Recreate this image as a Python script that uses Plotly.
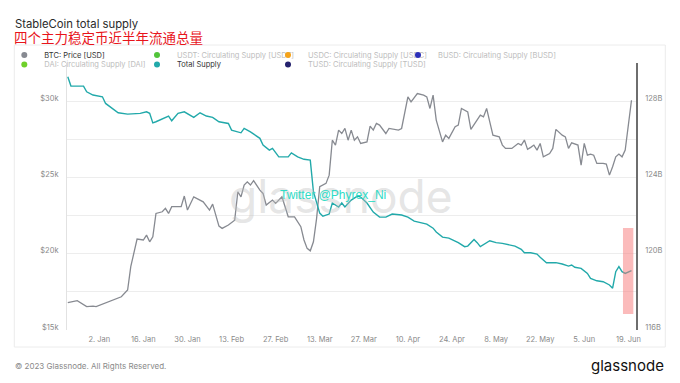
import plotly.graph_objects as go

# ---------------- data ----------------
btc_dates = [
    "2022-12-23", "2022-12-26", "2022-12-29", "2022-12-31", "2023-01-01", "2023-01-03",
    "2023-01-05", "2023-01-07", "2023-01-09", "2023-01-11", "2023-01-12", "2023-01-14",
    "2023-01-16", "2023-01-17", "2023-01-18", "2023-01-19", "2023-01-20", "2023-01-22",
    "2023-01-23", "2023-01-24", "2023-01-25", "2023-01-28", "2023-01-29", "2023-01-30",
    "2023-02-01", "2023-02-04", "2023-02-06", "2023-02-07", "2023-02-08", "2023-02-09",
    "2023-02-10", "2023-02-12", "2023-02-14", "2023-02-15", "2023-02-16", "2023-02-17",
    "2023-02-18", "2023-02-19", "2023-02-20", "2023-02-22", "2023-02-23", "2023-02-24",
    "2023-02-26", "2023-02-27", "2023-03-01", "2023-03-03", "2023-03-05", "2023-03-07",
    "2023-03-08", "2023-03-09", "2023-03-10", "2023-03-11", "2023-03-12", "2023-03-13",
    "2023-03-15", "2023-03-16", "2023-03-17", "2023-03-18", "2023-03-19", "2023-03-20",
    "2023-03-21", "2023-03-22", "2023-03-23", "2023-03-24", "2023-03-25", "2023-03-26",
    "2023-03-28", "2023-03-29", "2023-03-30", "2023-03-31", "2023-04-01", "2023-04-03",
    "2023-04-04", "2023-04-07", "2023-04-08", "2023-04-09", "2023-04-10", "2023-04-11",
    "2023-04-13", "2023-04-15", "2023-04-16", "2023-04-17", "2023-04-18", "2023-04-19",
    "2023-04-20", "2023-04-21", "2023-04-22", "2023-04-23", "2023-04-25", "2023-04-26",
    "2023-04-27", "2023-04-28", "2023-04-29", "2023-04-30", "2023-05-02", "2023-05-03",
    "2023-05-04", "2023-05-05", "2023-05-06", "2023-05-07", "2023-05-09", "2023-05-10",
    "2023-05-11", "2023-05-13", "2023-05-15", "2023-05-16", "2023-05-17", "2023-05-18",
    "2023-05-19", "2023-05-20", "2023-05-21", "2023-05-22", "2023-05-23", "2023-05-25",
    "2023-05-26", "2023-05-27", "2023-05-29", "2023-05-30", "2023-05-31", "2023-06-01",
    "2023-06-03", "2023-06-04", "2023-06-05", "2023-06-06", "2023-06-07", "2023-06-08",
    "2023-06-09", "2023-06-11", "2023-06-12", "2023-06-13", "2023-06-14", "2023-06-15",
    "2023-06-16", "2023-06-17", "2023-06-18", "2023-06-19", "2023-06-20",
]
btc_price = [
    16790, 16920, 16530, 16570, 16530, 16680,
    16850, 17010, 17180, 17620, 19150, 20960,
    20900, 21220, 20780, 21110, 22640, 22750,
    22970, 22640, 23080, 23080, 23780, 22860,
    23730, 23400, 22860, 23250, 22530, 21810,
    21660, 21880, 22200, 24060, 23730, 24500,
    24710, 24500, 24790, 24170, 23950, 23190,
    23520, 23300, 23730, 22420, 22420, 21770,
    20900, 20350, 20190, 20780, 22300, 24390,
    24610, 25150, 27440, 27120, 28100, 27880,
    28210, 27440, 28100, 27440, 27660, 27230,
    27330, 28360, 28100, 28540, 28430, 27880,
    28210, 28100, 28210, 29190, 30280, 29950,
    30500, 30390, 30280, 29520, 30390, 28760,
    28100, 27330, 27770, 27560, 28320, 28430,
    29520, 29410, 29300, 28150, 28760, 29080,
    28970, 29520, 28640, 27770, 27660, 27120,
    26900, 26900, 27230, 27120, 27450, 26840,
    26970, 27120, 26790, 27230, 26350, 26570,
    26900, 28150, 27770, 27660, 26900, 27270,
    27120, 25810, 27230, 26460, 26530, 26460,
    25920, 25920, 25870, 25150, 25700, 26350,
    26530, 26350, 26790, 28320, 30060,
]

supply_dates = [
    "2022-12-23", "2022-12-24", "2022-12-28", "2022-12-29", "2022-12-31", "2023-01-03",
    "2023-01-04", "2023-01-08", "2023-01-11", "2023-01-15", "2023-01-17", "2023-01-18",
    "2023-01-19", "2023-01-20", "2023-01-24", "2023-01-25", "2023-01-27", "2023-01-29",
    "2023-02-01", "2023-02-03", "2023-02-05", "2023-02-07", "2023-02-09", "2023-02-12",
    "2023-02-13", "2023-02-16", "2023-02-17", "2023-02-19", "2023-02-22", "2023-02-23",
    "2023-02-25", "2023-02-26", "2023-02-28", "2023-03-03", "2023-03-04", "2023-03-06",
    "2023-03-08", "2023-03-10", "2023-03-11", "2023-03-12", "2023-03-13", "2023-03-14",
    "2023-03-16", "2023-03-17", "2023-03-19", "2023-03-20", "2023-03-21", "2023-03-23",
    "2023-03-25", "2023-03-26", "2023-03-28", "2023-03-30", "2023-04-01", "2023-04-03",
    "2023-04-05", "2023-04-08", "2023-04-10", "2023-04-12", "2023-04-14", "2023-04-16",
    "2023-04-18", "2023-04-19", "2023-04-21", "2023-04-23", "2023-04-26", "2023-04-28",
    "2023-04-29", "2023-05-01", "2023-05-02", "2023-05-03", "2023-05-06", "2023-05-08",
    "2023-05-10", "2023-05-12", "2023-05-14", "2023-05-16", "2023-05-17", "2023-05-19",
    "2023-05-21", "2023-05-22", "2023-05-24", "2023-05-27", "2023-05-29", "2023-05-31",
    "2023-06-01", "2023-06-02", "2023-06-04", "2023-06-06", "2023-06-07", "2023-06-09",
    "2023-06-11", "2023-06-13", "2023-06-14", "2023-06-15", "2023-06-16", "2023-06-17",
    "2023-06-18", "2023-06-20",
]
total_supply_b = [
    129.28, 128.79, 128.79, 128.49, 128.32, 128.23,
    127.88, 127.39, 127.32, 127.36, 127.44, 127.36,
    126.86, 126.92, 127.22, 126.97, 127.36, 127.44,
    127.15, 127.39, 127.22, 127.15, 126.92, 126.83,
    126.48, 126.34, 126.57, 126.39, 126.05, 125.70,
    125.43, 125.52, 125.08, 125.08, 125.29, 125.08,
    124.95, 124.91, 123.25, 122.72, 122.13, 121.97,
    122.08, 122.66, 122.45, 122.66, 122.45, 122.81,
    123.02, 122.97, 122.66, 122.18, 121.92, 121.92,
    122.08, 122.03, 121.92, 121.71, 121.61, 121.55,
    121.34, 121.14, 120.87, 120.82, 120.58, 120.37,
    120.40, 120.75, 120.58, 120.37, 120.68, 120.58,
    120.54, 120.45, 120.40, 120.23, 120.05, 120.05,
    119.98, 119.81, 119.53, 119.53, 119.46, 119.35,
    119.41, 119.29, 119.23, 118.97, 118.71, 118.58,
    118.53, 118.36, 118.19, 119.06, 119.32, 119.06,
    118.97, 119.11,
]

legend_names = [
    "BTC: Price [USD]",
    "USDT: Circulating Supply [USDT]",
    "USDC: Circulating Supply [USDC]",
    "BUSD: Circulating Supply [BUSD]",
    "DAI: Circulating Supply [DAI]",
    "Total Supply",
    "TUSD: Circulating Supply [TUSD]",
]
legend_colors = ["#878a91", "#52c43a", "#f5a31a", "#2b2fb8", "#6fd02a", "#22a9aa", "#24226e"]
legend_active = [True, False, False, False, False, True, False]

left_tick_vals = [15000, 20000, 25000, 30000]
left_tick_text = ["$15k", "$20k", "$25k", "$30k"]
right_tick_vals = [116, 120, 124, 128]
right_tick_text = ["116B", "120B", "124B", "128B"]

# highlighted box over the latest days (right axis, billions)
highlight_x = ["2023-06-17 07:00", "2023-06-20 14:00"]
highlight_y = [116.84, 121.35]

# ---------------- layout geometry ----------------
# the page body adds an 8px offset, so the figure is 8px smaller and
# page positions are converted to figure positions
OFF = 8
W, H = 672, 375
ML, MT = 58.7, 55
MR = W - (635.7 - OFF)
MB = H - (330 - OFF)
PW, PH = W - ML - MR, H - MT - MB


def px(xpage):
    return (xpage - OFF - ML) / PW


def py(ypage):
    return (H - MB - (ypage - OFF)) / PH


fig = go.Figure()

fig.add_trace(go.Scatter(
    x=btc_dates, y=btc_price, mode="lines", name=legend_names[0],
    line=dict(color=legend_colors[0], width=1.3), yaxis="y", showlegend=False,
    hoverinfo="skip"))
fig.add_trace(go.Scatter(
    x=supply_dates, y=total_supply_b, mode="lines", name=legend_names[5],
    line=dict(color=legend_colors[5], width=1.4), yaxis="y2", showlegend=False,
    hoverinfo="skip"))

# legend entries: one small legend per entry, laid out in the two rows of the original
legend_text_x = [38, 170.7, 301.7, 431.7, 38, 170.7, 301.7]
legend_row_y = [55, 55, 55, 55, 64.5, 64.5, 64.5]
for i, (nm, col, active) in enumerate(zip(legend_names, legend_colors, legend_active)):
    lg = "legend" if i == 0 else f"legend{i + 1}"
    fig.add_trace(go.Scatter(
        x=[None], y=[None], mode="markers", name=nm,
        marker=dict(color=col, size=6), legend=lg, hoverinfo="skip"))
    left_page = legend_text_x[i] + 6 - 40
    fig.update_layout({lg: dict(
        x=px(left_page), y=py(legend_row_y[i]), xanchor="left", yanchor="middle",
        bgcolor="rgba(0,0,0,0)", borderwidth=0,
        font=dict(family="Inter", size=7.5, color="#333333" if active else "#bdbdbd"),
        itemclick=False, itemdoubleclick=False)})

fig.update_layout(
    width=W, height=H,
    margin=dict(l=ML, r=MR, t=MT, b=MB, autoexpand=False),
    paper_bgcolor="white", plot_bgcolor="white",
    font=dict(family="Inter", size=8, color="#8a8a8a"),
    hovermode=False,
    xaxis=dict(
        type="date", range=["2022-12-22 18:00", "2023-06-21 10:20"],
        tick0="2023-01-02", dtick=14 * 86400000, tickformat="%-d. %b",
        showgrid=False, showline=False, zeroline=False, ticks="",
        tickfont=dict(size=7.5, color="#8a8a8a"), ticklabelstandoff=3),
    yaxis=dict(
        range=[15000, 32500], tickmode="array", tickvals=left_tick_vals,
        ticktext=left_tick_text,
        showgrid=True, gridcolor="#ededed", gridwidth=1,
        minor=dict(tickmode="linear", tick0=15000, dtick=2500, showgrid=True,
                   gridcolor="#ededed", gridwidth=1),
        showline=True, linecolor="#e2e2e2", linewidth=1, zeroline=False, ticks="",
        tickfont=dict(size=7.5, color="#8a8a8a"), ticklabelstandoff=6,
        ticklabelshift=-3),
    yaxis2=dict(
        overlaying="y", side="right", range=[116, 130], tickmode="array",
        tickvals=right_tick_vals, ticktext=right_tick_text,
        showgrid=False, showline=True, linecolor="#6e6e6e", linewidth=1.5,
        zeroline=False, ticks="", tickfont=dict(size=7.5, color="#8a8a8a"),
        ticklabelstandoff=6, ticklabelshift=-3),
)

# panel frame
fig.add_shape(type="rect", xref="paper", yref="paper",
              x0=px(14), x1=px(665), y0=py(347), y1=py(45),
              line=dict(color="#ececec", width=1), fillcolor="rgba(0,0,0,0)", layer="below")

# highlight box
fig.add_shape(type="rect", xref="x", yref="y2",
              x0=highlight_x[0], x1=highlight_x[1], y0=highlight_y[0], y1=highlight_y[1],
              line=dict(width=0), fillcolor="rgba(248,120,120,0.5)", layer="above")

annotations = [
    dict(text="glassnode", x=px(341), y=py(196), xref="paper", yref="paper",
         showarrow=False, xanchor="center", yanchor="middle",
         font=dict(family="Inter", size=46, color="rgba(190,190,190,0.40)")),
    dict(text="Twitter @Phyrex_Ni", x=px(333), y=py(195), xref="paper", yref="paper",
         showarrow=False, xanchor="center", yanchor="middle",
         font=dict(family="Liberation Sans", size=12, color="#2fdcc6")),
    dict(text="StableCoin total supply", x=px(13), y=py(24.5), xref="paper", yref="paper",
         showarrow=False, xanchor="left", yanchor="middle",
         font=dict(family="Inter", size=11.3, color="#2a2a2a")),
    dict(text="四个主力稳定币近半年流通总量", x=px(12), y=py(37), xref="paper", yref="paper",
         showarrow=False, xanchor="left", yanchor="middle",
         font=dict(family="Noto Sans CJK SC", size=13.5, color="#e8141b")),
    dict(text="© 2023 Glassnode. All Rights Reserved.", x=px(13), y=py(366),
         xref="paper", yref="paper", showarrow=False, xanchor="left", yanchor="middle",
         font=dict(family="Inter", size=8, color="#8a8a8a")),
    dict(text="glassnode", x=px(666), y=py(366), xref="paper", yref="paper",
         showarrow=False, xanchor="right", yanchor="middle",
         font=dict(family="Inter", size=15, color="#111111")),
]
fig.update_layout(annotations=annotations)

fig.write_html("out.html")
